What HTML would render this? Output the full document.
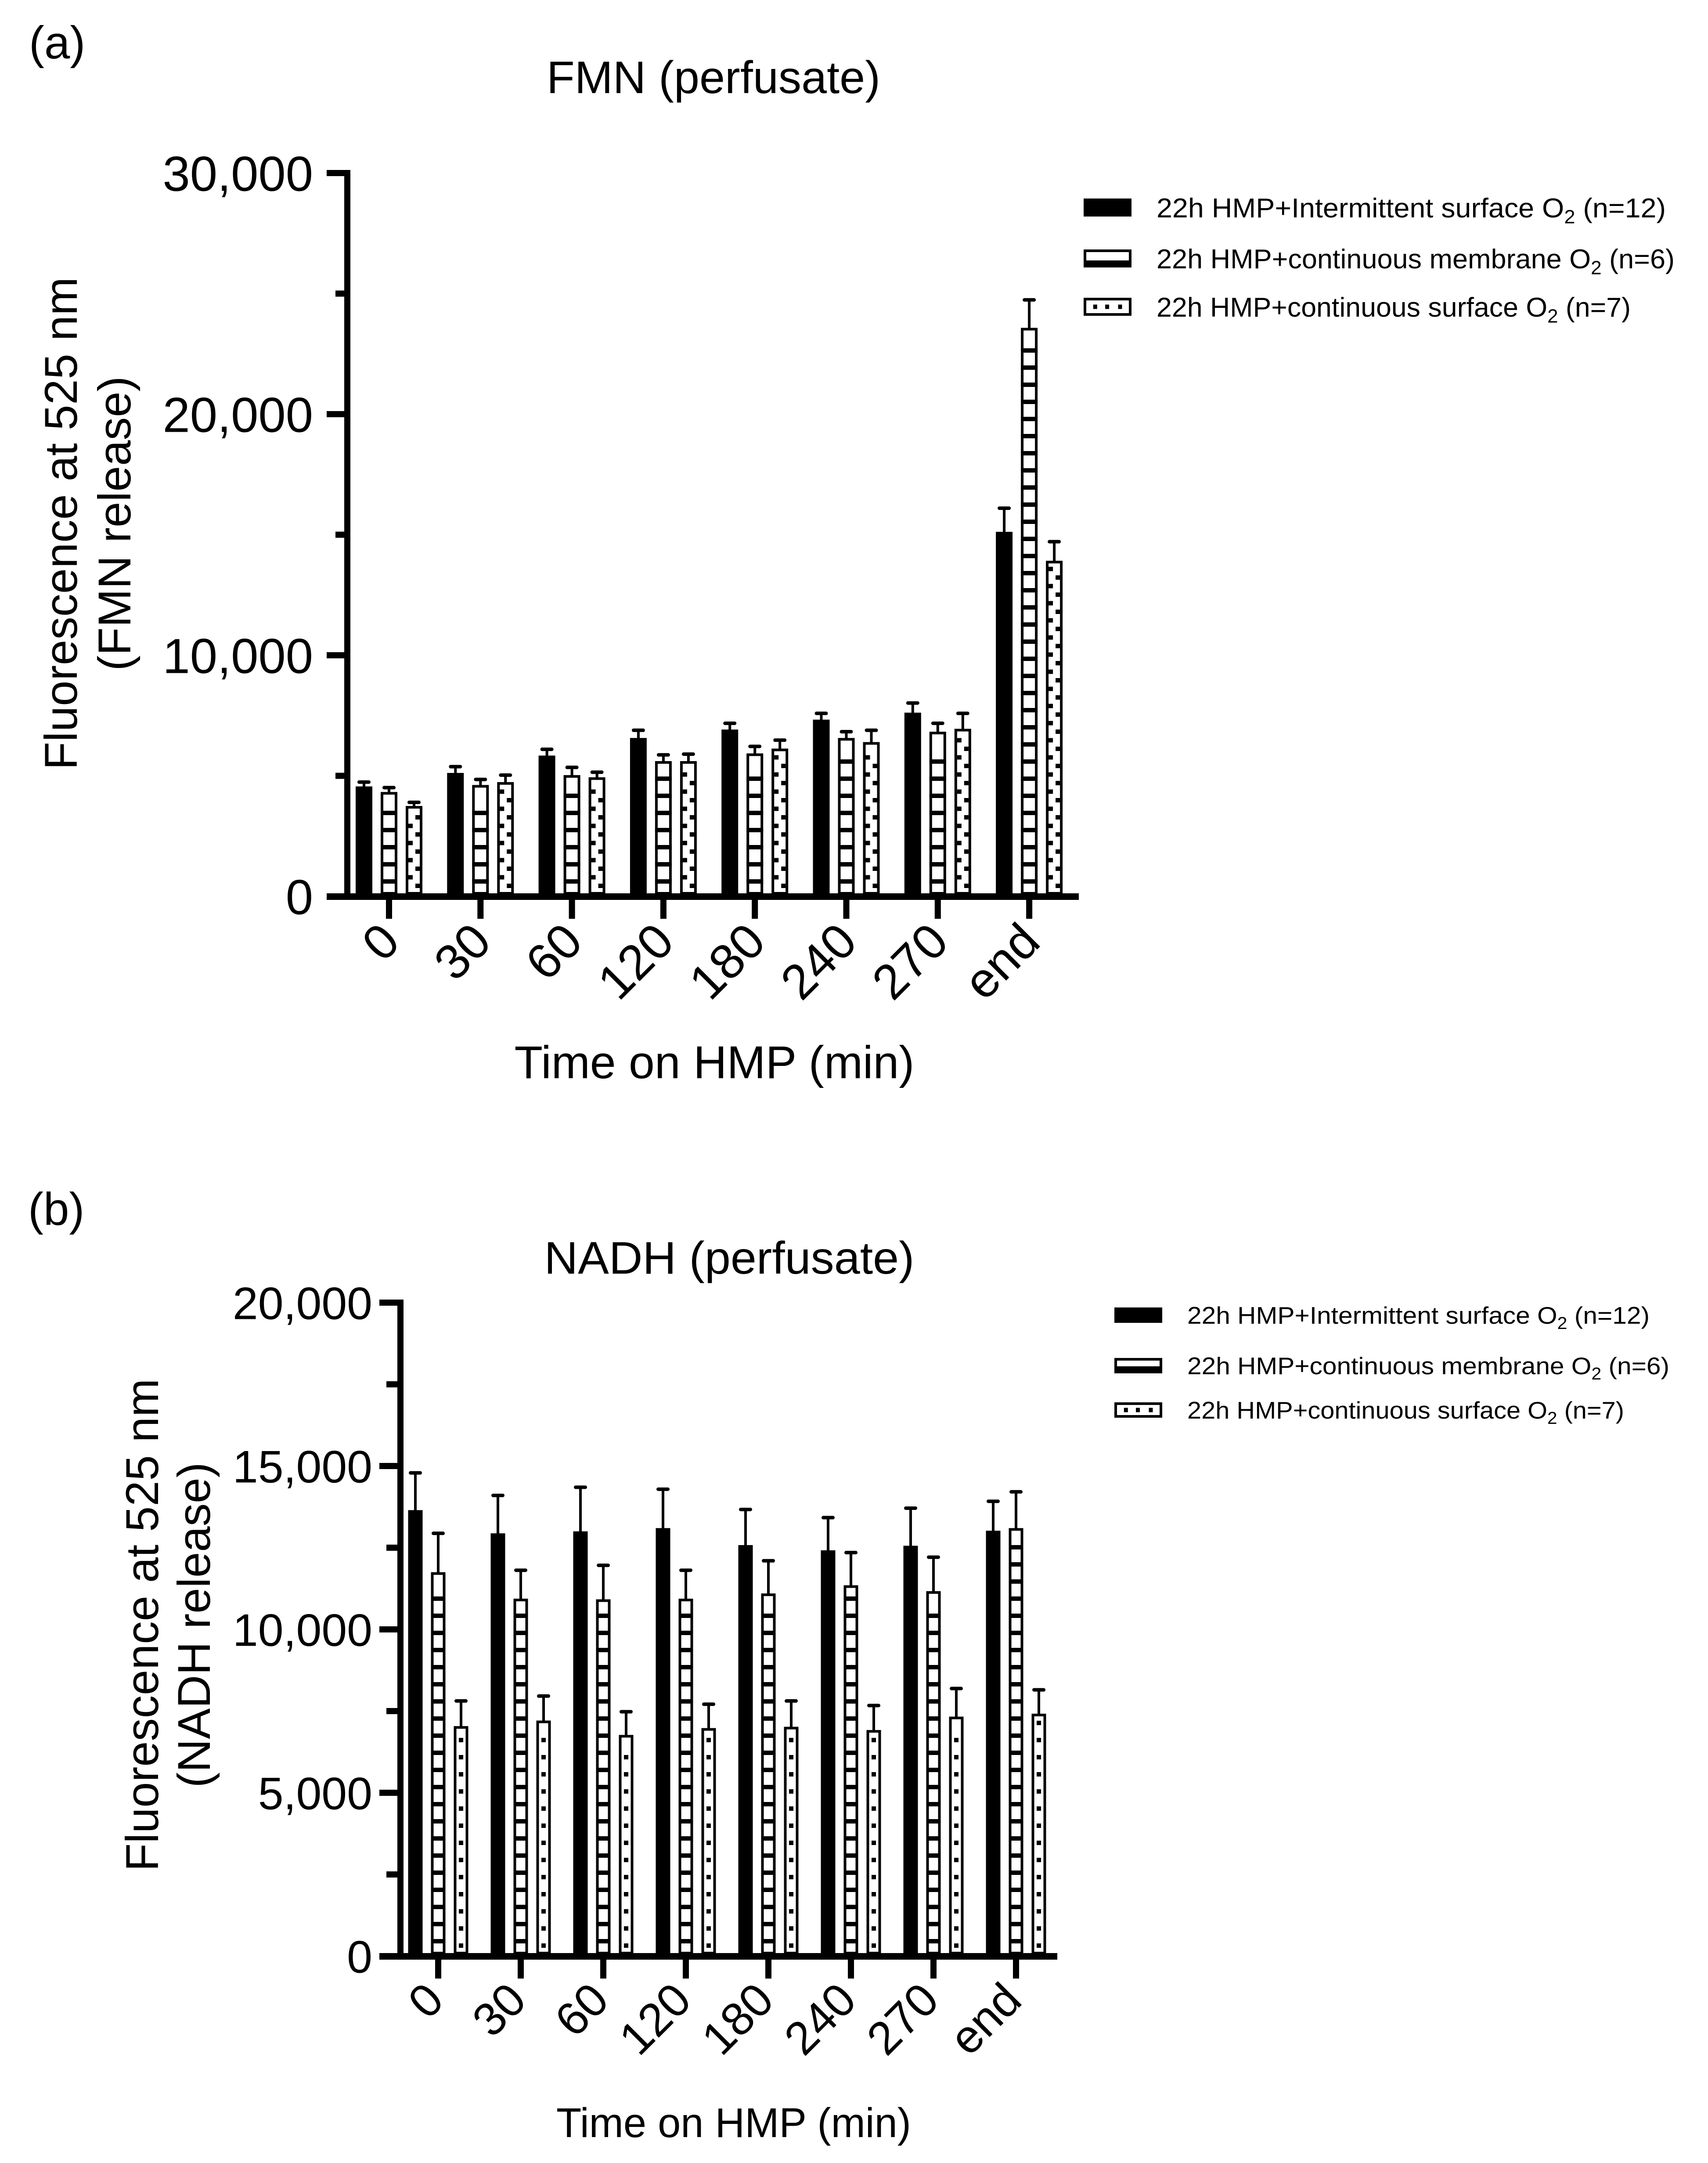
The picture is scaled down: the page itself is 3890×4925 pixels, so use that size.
<!DOCTYPE html>
<html><head><meta charset="utf-8"><style>
html,body{margin:0;padding:0;background:#fff;}
svg{display:block;font-family:"Liberation Sans",Arial,sans-serif;}
</style></head><body>
<svg id="fig" xmlns="http://www.w3.org/2000/svg" width="3890" height="4925" viewBox="0 0 3890 4925">
<rect width="3890" height="4925" fill="#fff"/>
<text x="66" y="133" font-size="105">(a)</text>
<text x="1625" y="212" font-size="104" text-anchor="middle" textLength="760" lengthAdjust="spacingAndGlyphs">FMN (perfusate)</text>
<text x="64" y="2789" font-size="105">(b)</text>
<text x="1661" y="2900" font-size="104" text-anchor="middle" textLength="843" lengthAdjust="spacingAndGlyphs">NADH (perfusate)</text>
<g id="chartA"></g>
<g id="chartB"></g>
</svg>
<script>
const categories=['0','30','60','120','180','240','270','end'];
const seriesNames=['22h HMP+Intermittent surface O','22h HMP+continuous membrane O','22h HMP+continuous surface O'];
const seriesN=['(n=12)','(n=6)','(n=7)'];
const fmnIntermittent=[4560,5120,5840,6570,6920,7330,7620,15120];
const fmnIntermittentErr=[180,260,260,320,260,260,400,980];
const fmnMembrane=[4330,4620,5030,5610,5930,6570,6830,23580];
const fmnMembraneErr=[180,230,320,260,290,260,350,1160];
const fmnSurface=[3750,4740,4940,5610,6130,6400,6950,13920];
const fmnSurfaceErr=[150,290,210,290,350,490,640,790];
const nadhIntermittent=[13650,12940,13000,13100,12580,12420,12560,13020];
const nadhIntermittentErr=[1140,1160,1350,1190,1090,1000,1150,900];
const nadhMembrane=[11750,10940,10920,10940,11100,11350,11170,13100];
const nadhMembraneErr=[1190,870,1040,870,1000,1000,1040,1110];
const nadhSurface=[7040,7210,6770,6980,7020,6920,7330,7420];
const nadhSurfaceErr=[770,750,710,730,790,750,860,730];
const fmnTicks=[0,10000,20000,30000];
const fmnTickLabels=['0','10,000','20,000','30,000'];
const fmnMinor=[5000,15000,25000];
const nadhTicks=[0,5000,10000,15000,20000];
const nadhTickLabels=['0','5,000','10,000','15,000','20,000'];
const nadhMinor=[2500,7500,12500,17500];

const NS='http://www.w3.org/2000/svg';
function mk(parent,tag,attrs){const e=document.createElementNS(NS,tag);for(const k in attrs)e.setAttribute(k,attrs[k]);parent.appendChild(e);return e;}

function drawChart(g,cfg,vals,errs,ticks,tickLabels,minor){
  const y=v=>cfg.zero-v*(cfg.zero-cfg.top)/cfg.max;
  const base=cfg.zero-7;
  vals.forEach((arr,s)=>{
    arr.forEach((v,i)=>{
      const cx=cfg.c0+i*cfg.step+cfg.off[s];
      const x0=cx-cfg.bw/2, yt=y(v), h=base-yt;
      const bg=mk(g,'g',{});
      
      
      if(s===0){mk(bg,'rect',{x:x0,y:yt,width:cfg.bw,height:h,fill:'#000'});}
      else{
        mk(bg,'rect',{x:x0+3,y:yt+3,width:cfg.bw-6,height:h-3,fill:'#fff',stroke:'#000','stroke-width':6});
        if(s===1){
          for(let yy=base-32;yy>yt+25;yy-=39) mk(bg,'rect',{x:x0,y:yy,width:cfg.bw,height:10,fill:'#000'});
        } else {
          let k=0;
          for(let yy=base-22;yy>yt+12;yy-=19.5,k++){
            let sx;
            if(cfg.dotCenter) sx=cx-5; else sx=(k%2===0)?(x0+cfg.bw-16):(x0+6);
            if(cfg.dotCenter && k%2===1) continue;
            mk(bg,'rect',{x:sx,y:yy,width:10,height:10,fill:'#000'});
          }
        }
      }
      const ye=y(v+errs[s][i]);
      const eb=mk(g,'g',{stroke:'#000','stroke-linecap':'round'});
      
      
      mk(eb,'line',{x1:cx,y1:yt,x2:cx,y2:ye,'stroke-width':6});
      mk(eb,'line',{x1:cx-11,y1:ye,x2:cx+11,y2:ye,'stroke-width':8});
    });
  });
  const ax=mk(g,'g',{fill:'#000'});
  
  
  mk(ax,'rect',{x:cfg.axX-7,y:cfg.top-7,width:14,height:cfg.zero-cfg.top+14});
  ticks.forEach((t,i)=>{
    mk(ax,'rect',{x:cfg.majL,y:y(t)-7,width:cfg.axX-cfg.majL,height:14});
    const tl=mk(ax,'text',{x:cfg.lblR,y:y(t)+cfg.tfs*0.36,'font-size':cfg.tfs,'text-anchor':'end'});
    
    
    tl.textContent=tickLabels[i];
  });
  minor.forEach(t=>mk(ax,'rect',{x:cfg.minL,y:y(t)-7,width:cfg.axX-cfg.minL,height:14}));
  const xa=mk(g,'g',{fill:'#000'});
  
  
  mk(xa,'rect',{x:cfg.majL,y:cfg.zero-7,width:cfg.xEnd-cfg.majL,height:15});
  categories.forEach((c,i)=>{
    const cx=cfg.c0+i*cfg.step;
    mk(xa,'rect',{x:cx-7,y:cfg.zero,width:14,height:cfg.tickLen});
    const px=cx+cfg.lblDx, py=cfg.lblY;
    const t=mk(xa,'text',{x:px,y:py,'font-size':cfg.xfs,'text-anchor':'end',transform:`rotate(-45 ${px} ${py})`});
    
    
    t.textContent=c;
  });
  const yt1=mk(g,'text',{x:cfg.yt1x,y:cfg.ytY,'font-size':105,'text-anchor':'middle',transform:`rotate(-90 ${cfg.yt1x} ${cfg.ytY})`,textLength:1122,lengthAdjust:'spacingAndGlyphs'});
  
  
  yt1.textContent='Fluorescence at 525 nm';
  const yt2=mk(g,'text',{x:cfg.yt2x,y:cfg.ytY,'font-size':105,'text-anchor':'middle',transform:`rotate(-90 ${cfg.yt2x} ${cfg.ytY})`});
  
  
  yt2.textContent=cfg.yt2;
  const xt=mk(g,'text',{x:cfg.xtX,y:cfg.xtY,'font-size':cfg.xtfs,'text-anchor':'middle',textLength:cfg.xtW,lengthAdjust:'spacingAndGlyphs'});
  
  
  xt.textContent='Time on HMP (min)';
  const lg=mk(g,'g',{});
  
  
  cfg.legY.forEach((ly,s)=>{
    const e=mk(lg,'g',{});
    
    
    const bx=cfg.legX, bh=cfg.legH, bw=109;
    if(s===0) mk(e,'rect',{x:bx,y:ly,width:bw,height:bh,fill:'#000'});
    else{
      mk(e,'rect',{x:bx+3,y:ly+3,width:bw-6,height:bh-6,fill:'#fff',stroke:'#000','stroke-width':6});
      if(s===1) mk(e,'rect',{x:bx,y:ly+bh-16,width:bw,height:10,fill:'#000'});
      else [0.2,0.45,0.72].forEach(f=>mk(e,'rect',{x:bx+bw*f,y:ly+bh/2-5,width:9,height:10,fill:'#000'}));
    }
    const t=mk(e,'text',{x:cfg.legTX,y:ly+bh+2,'font-size':cfg.lfs,textLength:cfg.legW[s],lengthAdjust:'spacingAndGlyphs'});
    t.textContent=seriesNames[s];
    const sub=mk(t,'tspan',{dy:cfg.lfs*0.22,'font-size':cfg.lfs*0.7});sub.textContent='2';
    const rest=mk(t,'tspan',{dy:-cfg.lfs*0.22});rest.textContent=' '+seriesN[s];
  });
}

drawChart(document.getElementById('chartA'),{
  zero:2041,top:394,max:30000,c0:886,step:208.3,off:[-57,0,57],bw:38,dotCenter:false,
  axX:791,majL:744,minL:764,lblR:713,tfs:112,xEnd:2457,tickLen:51,lblDx:30,lblY:2150,xfs:112,
  yt1x:175,yt2x:297,ytY:1192,yt2:'(FMN release)',xtX:1627,xtY:2455,xtfs:105,xtW:911,
  legX:2468,legY:[452,568,678],legH:41,legTX:2634,lfs:62,legW:[1160,1180,1080]
},[fmnIntermittent,fmnMembrane,fmnSurface],[fmnIntermittentErr,fmnMembraneErr,fmnSurfaceErr],fmnTicks,fmnTickLabels,fmnMinor);

drawChart(document.getElementById('chartB'),{
  zero:4454,top:2966,max:20000,c0:998,step:188,off:[-52,0,52],bw:33,dotCenter:true,
  axX:912,majL:864,minL:880,lblR:848,tfs:104,xEnd:2408,tickLen:51,lblDx:18,lblY:4560,xfs:106,
  yt1x:360,yt2x:478,ytY:3700,yt2:'(NADH release)',xtX:1671,xtY:4866,xtfs:95,xtW:808,
  legX:2538,legY:[2977,3092,3193],legH:35,legTX:2704,lfs:55,legW:[1053,1098,995]
},[nadhIntermittent,nadhMembrane,nadhSurface],[nadhIntermittentErr,nadhMembraneErr,nadhSurfaceErr],nadhTicks,nadhTickLabels,nadhMinor);
</script>
</body></html>
